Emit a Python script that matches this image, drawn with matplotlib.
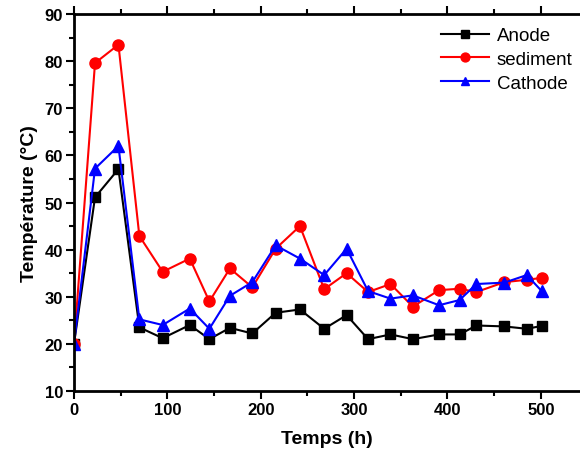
import matplotlib
matplotlib.use('Agg')
import matplotlib.pyplot as plt
from matplotlib.ticker import MultipleLocator

plt.rcParams['font.family'] = ['Liberation Sans', 'DejaVu Sans']

# time (h)
temps = [0, 22.5, 47.6, 70, 95, 124, 145, 167, 191, 216, 242, 268, 292,
         315, 339, 363, 391, 413, 431, 461, 485, 501]

anode = [20.0, 51.1, 57.1, 23.5, 21.2, 24.0, 21.0, 23.4, 22.2, 26.6, 27.3,
         23.2, 26.1, 21.0, 22.0, 21.0, 22.0, 22.0, 23.9, 23.7, 23.2, 23.8]
sediment = [20.0, 79.6, 83.5, 42.9, 35.3, 38.1, 29.0, 36.0, 32.0, 40.2, 45.0,
            31.6, 35.0, 31.0, 32.7, 27.9, 31.4, 31.7, 31.0, 33.1, 33.6, 34.0]
cathode = [20.0, 57.2, 62.0, 25.2, 24.0, 27.5, 23.2, 30.2, 33.1, 40.9, 38.1,
           34.6, 40.2, 31.2, 29.6, 30.3, 28.2, 29.3, 32.7, 33.0, 34.6, 31.2]

fig = plt.figure(figsize=(5.8, 4.56), dpi=100)
ax = fig.add_axes([0.1276, 0.1404, 0.8724, 0.8266])

ax.plot(temps, anode, '-s', color='black', ms=6.5, lw=1.5, label='Anode')
ax.plot(temps, sediment, '-o', color='red', ms=8, lw=1.5, label='sediment')
ax.plot(temps, cathode, '-^', color='blue', ms=8, lw=1.5, label='Cathode')

ax.set_xlim(0, 542)
ax.set_ylim(10, 90)
ax.xaxis.set_major_locator(MultipleLocator(100))
ax.xaxis.set_minor_locator(MultipleLocator(50))
ax.yaxis.set_major_locator(MultipleLocator(10))
ax.yaxis.set_minor_locator(MultipleLocator(5))

for s in ['left', 'bottom', 'top']:
    ax.spines[s].set_linewidth(2)
ax.spines['right'].set_visible(False)
ax.tick_params(which='major', direction='out', length=6, width=1.5,
               labelsize=12, pad=2)
ax.tick_params(which='minor', direction='out', length=3.5, width=1.5)
ax.tick_params(axis='x', which='both', top=True, labeltop=False)
for lbl in ax.get_xticklabels() + ax.get_yticklabels():
    lbl.set_fontweight('bold')

ax.set_xlabel('Temps (h)', fontsize=14, fontweight='bold', labelpad=9)
ax.set_ylabel('Température (°C)', fontsize=14, fontweight='bold', labelpad=5)

ax.legend(loc='upper right', frameon=False, fontsize=13.5, handlelength=2.6,
          borderaxespad=0.0, labelspacing=0.35, handletextpad=0.4,
          markerscale=0.8, bbox_to_anchor=(1.0, 0.985))

fig.savefig('out.png', dpi=100)
